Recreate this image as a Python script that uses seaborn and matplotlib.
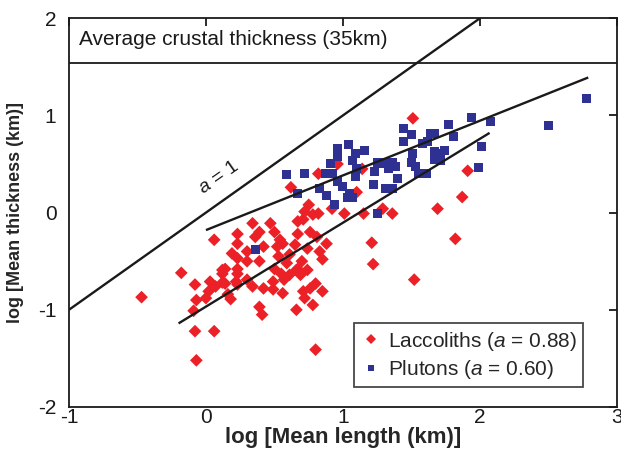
import numpy as np
import pandas as pd
import matplotlib
matplotlib.use("Agg")
import matplotlib.pyplot as plt
import seaborn as sns

# -------------------------
# DATA (log10 km)
# -------------------------
lacc_x = [-0.47, -0.07, 0.00, -0.09, 0.18, -0.08, 0.06, -0.07, 0.06, 0.23,
          0.23, 0.19, 0.23, 0.30, -0.18, 0.12, 0.23, -0.08, 0.03, 0.12,
          0.02, 0.23, 0.30, 0.62, 1.10, 0.75, 0.72, 0.78, 0.82, 0.67,
          0.71, 0.92, 1.01, 1.15, 1.29, 1.36, 0.34, 0.47, 0.39, 0.36,
          0.50, 0.54, 0.67, 0.76, 0.81, 1.21, 1.22, 0.42, 0.52, 0.56,
          0.65, 0.74, 0.83, 0.88, 0.30, 0.39, 0.53, 0.61, 0.70, 0.85,
          0.14, 0.50, 0.59, 0.67, 0.12, 0.23, 0.55, 0.66, 0.74, 0.07,
          0.14, 0.22, 0.49, 0.57, 0.61, 0.69, 0.16, 0.34, 0.42, 0.49,
          0.56, 0.71, 0.80, 0.85, 0.76, 0.39, 0.41, 0.66, 0.72, 0.78,
          0.80, 1.51, 0.96, 0.82, 1.14, 1.91, 1.69, 1.87, 1.82, 1.52]
lacc_y = [-0.87, -0.90, -0.88, -1.01, -0.89, -1.22, -1.22, -1.52, -0.28, -0.22,
          -0.32, -0.42, -0.47, -0.40, -0.62, -0.59, -0.58, -0.74, -0.71, -0.72,
          -0.81, -0.74, -0.69, 0.26, 0.21, 0.08, 0.01, -0.02, -0.01, -0.09,
          -0.07, 0.04, -0.01, -0.01, 0.04, -0.01, -0.11, -0.11, -0.20, -0.25,
          -0.20, -0.28, -0.22, -0.20, -0.25, -0.31, -0.53, -0.35, -0.35, -0.32,
          -0.33, -0.37, -0.40, -0.32, -0.50, -0.50, -0.45, -0.43, -0.50, -0.48,
          -0.58, -0.58, -0.52, -0.58, -0.63, -0.63, -0.63, -0.59, -0.59, -0.76,
          -0.73, -0.71, -0.71, -0.69, -0.64, -0.64, -0.84, -0.76, -0.78, -0.79,
          -0.83, -0.81, -0.73, -0.81, -0.78, -0.97, -1.05, -1.00, -0.88, -0.95,
          -1.41, 0.97, 0.50, 0.40, 0.45, 0.43, 0.04, 0.16, -0.27, -0.69]

plut_x = [0.59, 0.72, 0.96, 1.04, 0.96, 1.09, 1.16, 1.07, 0.91, 0.87,
          0.92, 0.96, 0.83, 0.88, 0.67, 1.00, 1.05, 1.03, 1.07, 0.94,
          1.09, 1.10, 1.25, 1.23, 1.22, 1.32, 1.36, 1.38, 1.33, 1.40,
          1.31, 1.36, 1.25, 1.44, 1.50, 1.44, 1.51, 1.50, 1.53, 1.55,
          1.61, 1.58, 1.64, 1.67, 1.62, 1.67, 1.71, 1.74, 1.67, 1.71,
          1.77, 1.81, 1.94, 2.01, 1.99, 2.08, 1.27, 0.36, 2.50, 2.78]
plut_y = [0.39, 0.40, 0.66, 0.70, 0.58, 0.61, 0.64, 0.54, 0.50, 0.40,
          0.40, 0.32, 0.25, 0.18, 0.20, 0.27, 0.20, 0.16, 0.16, 0.08,
          0.37, 0.45, 0.52, 0.42, 0.29, 0.52, 0.52, 0.47, 0.45, 0.35,
          0.25, 0.25, -0.01, 0.87, 0.80, 0.73, 0.61, 0.52, 0.47, 0.40,
          0.40, 0.71, 0.81, 0.81, 0.73, 0.63, 0.61, 0.64, 0.55, 0.54,
          0.91, 0.78, 0.98, 0.68, 0.46, 0.94, 0.50, -0.38, 0.90, 1.17]

# fitted power-law lines (end points) and the a = 1 reference
lacc_fit_x = [-0.20, 2.07]
lacc_fit_y = [-1.14, 0.82]
plut_fit_x = [0.00, 2.79]
plut_fit_y = [-0.18, 1.39]
unity_x = [-1.0, 2.0]
unity_y = [-1.0, 2.0]
crust_y = np.log10(35)

labels = {"Laccoliths": "Laccoliths ($a$ = 0.88)",
          "Plutons": "Plutons ($a$ = 0.60)"}

df = pd.concat([
    pd.DataFrame({"x": lacc_x, "y": lacc_y, "type": "Laccoliths"}),
    pd.DataFrame({"x": plut_x, "y": plut_y, "type": "Plutons"}),
], ignore_index=True)

# -------------------------
# STYLE
# -------------------------
sns.set_style("white")
plt.rcParams["font.family"] = ["Liberation Sans", "DejaVu Sans"]
plt.rcParams["mathtext.fontset"] = "custom"
plt.rcParams["mathtext.it"] = "Liberation Sans:italic"
plt.rcParams["mathtext.rm"] = "Liberation Sans"
plt.rcParams["axes.unicode_minus"] = False

fig = plt.figure(figsize=(6.21, 4.55), dpi=100)
ax = fig.add_axes([0.111, 0.1055, 0.8826, 0.8545])

sns.scatterplot(data=df, x="x", y="y", hue="type", style="type",
                palette={"Laccoliths": "#ec2127", "Plutons": "#2e3192"},
                markers={"Laccoliths": "D", "Plutons": "s"},
                s=42, linewidth=0, ax=ax, zorder=2)

for xs, ys in [(lacc_fit_x, lacc_fit_y), (plut_fit_x, plut_fit_y), (unity_x, unity_y)]:
    ax.plot(xs, ys, color="#1a1a1a", lw=1.7, zorder=3, solid_capstyle="butt")

ax.axhline(crust_y, color="#1a1a1a", lw=1.3, zorder=3)
ax.text(-0.93, 1.78, "Average crustal thickness (35km)", fontsize=15,
        va="center", ha="left", color="#1a1a1a")
ax.text(0.09, 0.36, "$a$ = 1", fontsize=14, rotation=35,
        ha="center", va="center", color="#1a1a1a")

ax.set_xlim(-1, 3)
ax.set_ylim(-2, 2)
ax.set_xticks([-1, 0, 1, 2, 3])
ax.set_yticks([-2, -1, 0, 1, 2])
ax.tick_params(direction="in", length=6, width=1.3, labelsize=15,
               top=True, right=True, colors="#1a1a1a")
ax.tick_params(axis="x", pad=1)
ax.tick_params(axis="y", pad=9)
for sp in ax.spines.values():
    sp.set_linewidth(1.3)
    sp.set_color("#1a1a1a")

ax.set_xlabel("log [Mean length (km)]", fontsize=16, fontweight="bold", labelpad=0)
ax.set_ylabel("log [Mean thickness (km)]", fontsize=13, fontweight="bold", labelpad=10)

handles, keys = ax.get_legend_handles_labels()
leg = ax.legend(handles, [labels[k] for k in keys], loc="lower right",
                bbox_to_anchor=(0.938, 0.051), borderaxespad=0, fontsize=15,
                frameon=True, fancybox=False, markerscale=0.75,
                handletextpad=0.3, borderpad=0.3, labelspacing=0.25,
                handlelength=1.0)
leg.get_frame().set_edgecolor("#1a1a1a")
leg.get_frame().set_linewidth(1.3)

fig.savefig("out.png", dpi=100)
